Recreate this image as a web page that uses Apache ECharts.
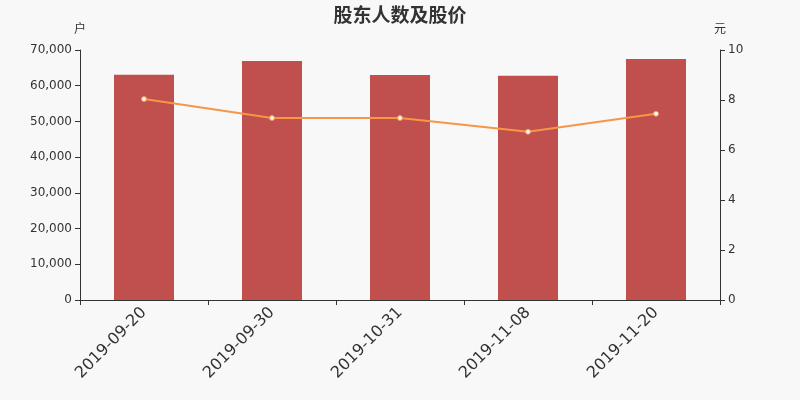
<!DOCTYPE html>
<html>
<head>
<meta charset="utf-8">
<script src="https://cdn.jsdelivr.net/npm/echarts@6/dist/echarts.min.js"></script>
<style>
html,body{margin:0;padding:0;background:#f8f8f8;}
#chart{width:800px;height:400px;}
</style>
</head>
<body>
<div id="chart"></div>
<script>
// 日期
var dates = ['2019-09-20', '2019-09-30', '2019-10-31', '2019-11-08', '2019-11-20'];
// 股东人数(户)
var holders = [63100, 66900, 63000, 62800, 67500];
// 股价(元)
var prices = [8.04, 7.28, 7.28, 6.73, 7.45];

var axisColor = '#333';
var font = 'DejaVu Sans, Noto Sans CJK SC, sans-serif';
var option = {
    backgroundColor: '#f8f8f8',
    textStyle: {fontFamily: font},
    title: {
        text: '股东人数及股价',
        left: 'center',
        top: 3,
        textStyle: {fontSize: 19, fontWeight: 'bold', color: '#333', fontFamily: font}
    },
    grid: {left: 80, right: 80, top: 50, bottom: 100},
    xAxis: {
        type: 'category',
        data: dates,
        axisLine: {lineStyle: {color: axisColor}},
        axisTick: {show: true, alignWithLabel: false},
        axisLabel: {rotate: 45, fontSize: 16, color: '#333', margin: 10, fontFamily: font}
    },
    yAxis: [{
        type: 'value',
        name: '户',
        nameGap: 14,
        nameTextStyle: {color: '#333', fontSize: 12, align: 'center'},
        min: 0, max: 70000, interval: 10000,
        splitLine: {show: false},
        axisLine: {show: true, lineStyle: {color: axisColor}},
        axisTick: {show: true},
        axisLabel: {color: '#333', fontSize: 12, fontFamily: font, formatter: function (v) { return v.toLocaleString('en-US'); }}
    }, {
        type: 'value',
        name: '元',
        nameGap: 14,
        nameTextStyle: {color: '#333', fontSize: 12, align: 'center'},
        min: 0, max: 10, interval: 2,
        splitLine: {show: false},
        axisLine: {show: true, lineStyle: {color: axisColor}},
        axisTick: {show: true},
        axisLabel: {color: '#333', fontSize: 12, fontFamily: font}
    }],
    series: [{
        name: '股东人数',
        type: 'bar',
        data: holders,
        barWidth: 60,
        itemStyle: {color: '#c0504d'}
    }, {
        name: '股价',
        type: 'line',
        yAxisIndex: 1,
        data: prices,
        symbol: 'circle',
        symbolSize: 5,
        lineStyle: {color: '#f79646', width: 2},
        itemStyle: {color: '#fff', borderColor: '#f79646', borderWidth: 1}
    }]
};
var chart = echarts.init(document.getElementById('chart'));
chart.setOption(option);
</script>
</body>
</html>
